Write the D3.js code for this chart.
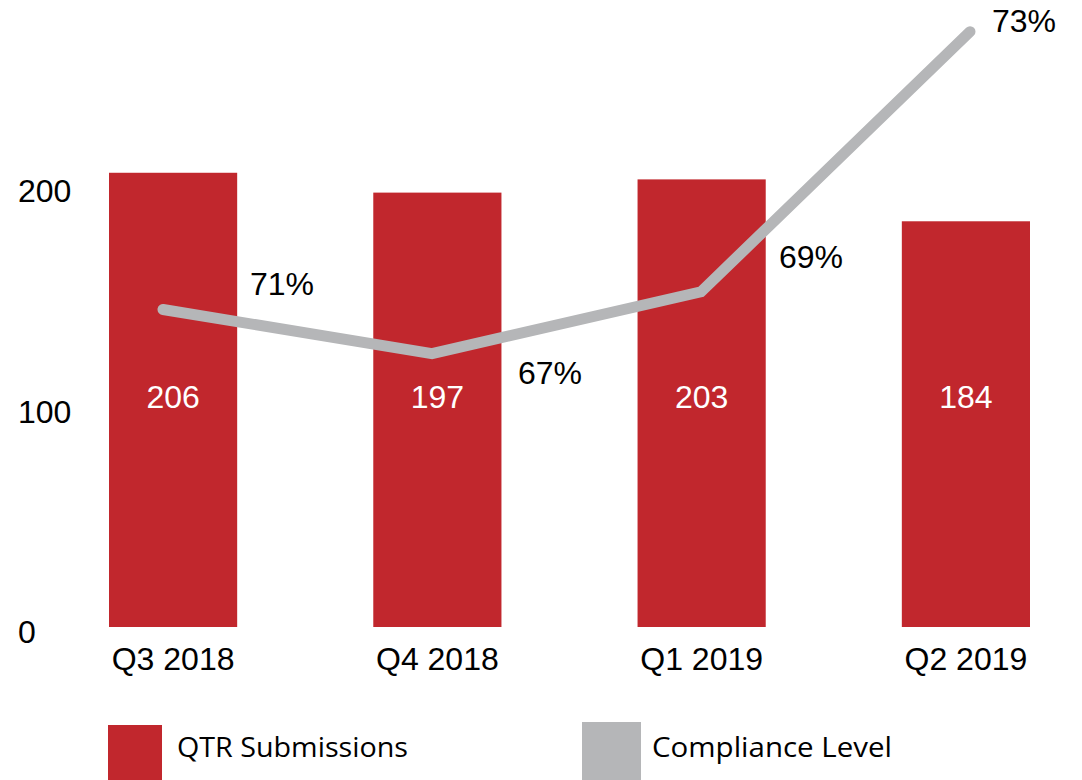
<!DOCTYPE html>
<html>
<head>
<meta charset="utf-8">
<script src="https://cdnjs.cloudflare.com/ajax/libs/d3/7.8.5/d3.min.js"></script>
<style>
  body { margin: 0; background: #fff; }
  svg text { font-family: "Liberation Sans", Arial, Helvetica, sans-serif; }
  .legend text { font-family: "Open Sans", "Noto Sans", sans-serif; }
</style>
</head>
<body>
<svg width="1082" height="780"></svg>
<script>
var quarters = ["Q3 2018", "Q4 2018", "Q1 2019", "Q2 2019"];
var submissions = [206, 197, 203, 184];
// compliance line as plotted, read against the left axis
var compliancePlot = [144, 124, 152, 270];
var complianceLabels = ["71%", "67%", "69%", "73%"];
var yTicks = [0, 100, 200];

var svg = d3.select("svg"),
    width = +svg.attr("width"),
    height = +svg.attr("height");

var red = "#c1272d",
    grey = "#b5b6b8";

var x = d3.scaleBand()
    .domain(quarters)
    .range([109, 1030])
    .paddingInner(0.515)
    .paddingOuter(0);

var xLine = d3.scalePoint()
    .domain(quarters)
    .range([163, 970]);

var y = d3.scaleLinear()
    .domain([0, 200])
    .range([627, 186]);

// y axis labels (left aligned, no line)
svg.append("g")
    .selectAll("text")
    .data(yTicks).enter()
    .append("text")
    .attr("x", 18)
    .attr("y", function(d) { return y(d) + 16; })
    .attr("font-size", 32)
    .attr("fill", "#000")
    .text(function(d) { return d; });

// bars
svg.append("g")
    .selectAll("rect")
    .data(submissions).enter()
    .append("rect")
    .attr("x", function(d, i) { return x(quarters[i]); })
    .attr("y", function(d) { return y(d); })
    .attr("width", x.bandwidth())
    .attr("height", function(d) { return y(0) - y(d); })
    .attr("fill", red);

// bar values
svg.append("g")
    .selectAll("text")
    .data(submissions).enter()
    .append("text")
    .attr("x", function(d, i) { return x(quarters[i]) + x.bandwidth() / 2; })
    .attr("y", y(100) + 1)
    .attr("text-anchor", "middle")
    .attr("font-size", 32)
    .attr("fill", "#fff")
    .text(function(d) { return d; });

// x axis labels
var xAxis = svg.append("g")
    .attr("transform", "translate(0," + y(0) + ")")
    .call(d3.axisBottom(x).tickSize(0).tickPadding(20));
xAxis.select(".domain").remove();
xAxis.selectAll("text")
    .attr("font-family", null)
    .attr("font-size", 32)
    .attr("fill", "#000")
    .attr("dy", "0.71em");

// compliance line
var line = d3.line()
    .x(function(d, i) { return xLine(quarters[i]); })
    .y(function(d) { return y(d); });

svg.append("path")
    .datum(compliancePlot)
    .attr("d", line)
    .attr("fill", "none")
    .attr("stroke", grey)
    .attr("stroke-width", 11)
    .attr("stroke-linecap", "round")
    .attr("stroke-linejoin", "miter");

var labelOffsets = [[87, -14], [86, 30], [78, -24], [22, 0]];
svg.append("g")
    .selectAll("text")
    .data(complianceLabels).enter()
    .append("text")
    .attr("x", function(d, i) { return xLine(quarters[i]) + labelOffsets[i][0]; })
    .attr("y", function(d, i) { return y(compliancePlot[i]) + labelOffsets[i][1]; })
    .attr("font-size", 32)
    .attr("fill", "#000")
    .text(function(d) { return d; });

// legend
var legend = svg.append("g").attr("class", "legend");
var legendItems = [
    { name: "QTR Submissions", color: red, x: 108, w: 54, y: 725, tx: 177, len: 231 },
    { name: "Compliance Level", color: grey, x: 582, w: 59, y: 722, tx: 652, len: 240 }
];
legend.selectAll("rect")
    .data(legendItems).enter()
    .append("rect")
    .attr("x", function(d) { return d.x; })
    .attr("y", function(d) { return d.y; })
    .attr("width", function(d) { return d.w; })
    .attr("height", function(d) { return height - d.y; })
    .attr("fill", function(d) { return d.color; });
legend.selectAll("text")
    .data(legendItems).enter()
    .append("text")
    .attr("x", function(d) { return d.tx; })
    .attr("y", 757)
    .attr("font-size", 28)
    .attr("textLength", function(d) { return d.len; })
    .attr("lengthAdjust", "spacingAndGlyphs")
    .attr("fill", "#000")
    .text(function(d) { return d.name; });
</script>
</body>
</html>
